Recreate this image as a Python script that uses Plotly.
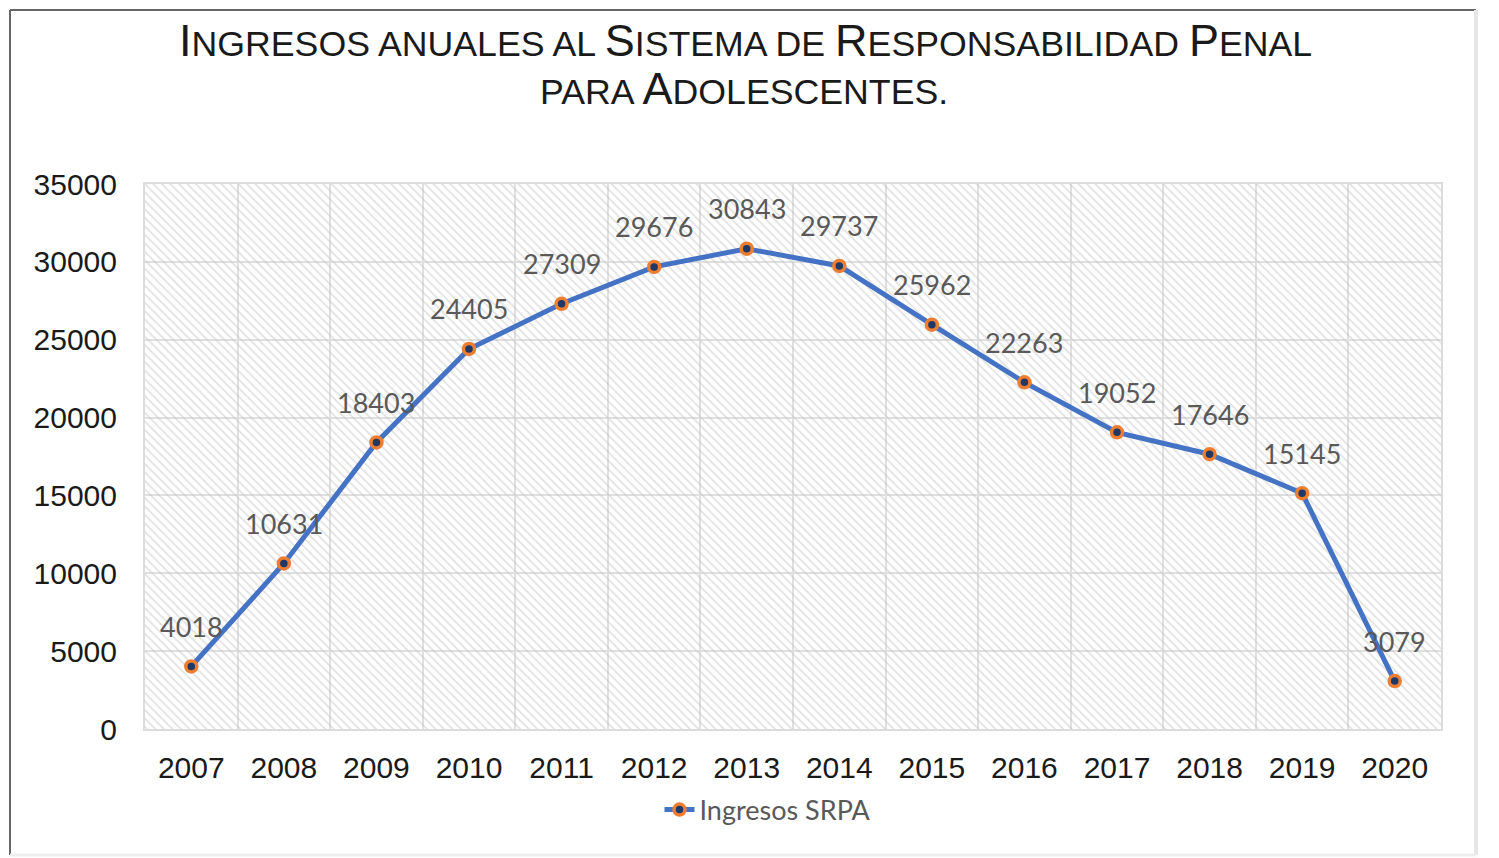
import plotly.graph_objects as go

years = ["2007", "2008", "2009", "2010", "2011", "2012", "2013",
         "2014", "2015", "2016", "2017", "2018", "2019", "2020"]
ingresos = [4018, 10631, 18403, 24405, 27309, 29676, 30843,
            29737, 25962, 22263, 19052, 17646, 15145, 3079]
y_ticks = [0, 5000, 10000, 15000, 20000, 25000, 30000, 35000]
y_max = 35000

# title in small caps (big capitals + reduced capitals)
BIG, SMALL = 45, 35.7


def small_caps(text):
    out = []
    for word in text.split(" "):
        first, rest = word[0], word[1:]
        if first.isupper():
            out.append(f"{first}<span style='font-size:{SMALL}px'>{rest.upper()}</span>")
        else:
            out.append(f"<span style='font-size:{SMALL}px'>{word.upper()}</span>")
    return f"<span style='font-size:{SMALL}px'> </span>".join(out)


title_line1 = "Ingresos anuales al Sistema de Responsabilidad Penal"
title_line2 = "para Adolescentes."

# page has an 8px body margin: all layout positions below are in figure pixels
W, H = 1491, 850
PL, PR, PT, PB = 137, 1433, 176, 721


def px_x(px):
    return (px - PL) / (PR - PL)


def px_y(py):
    return (PB - py) / (PB - PT)


fig = go.Figure()

# hatched plot-area background
fig.add_trace(go.Bar(
    x=years, y=[y_max] * len(years), width=1,
    marker=dict(color="rgba(0,0,0,0)", line=dict(width=0),
                pattern=dict(shape="\\", fgcolor="#C4C4C4",
                             bgcolor="rgba(0,0,0,0)", size=6, solidity=0.3)),
    hoverinfo="skip", showlegend=False,
))

fig.add_trace(go.Scatter(
    x=years, y=ingresos, mode="lines+markers",
    name="Ingresos SRPA",
    line=dict(color="#4472C4", width=5),
    marker=dict(symbol="circle", size=11, color="#1F3864",
                line=dict(color="#ED7D31", width=3.5)),
    cliponaxis=False,
))

annotations = []
for i, v in enumerate(ingresos):
    annotations.append(dict(
        x=i, y=v, xref="x", yref="y", text=str(v), showarrow=False,
        yshift=40, xanchor="center", yanchor="middle",
        font=dict(family="Lato", size=27, color="#595959"),
    ))

annotations.append(dict(
    x=px_x(737), y=px_y(32), xref="paper", yref="paper", showarrow=False,
    text=small_caps(title_line1), xanchor="center", yanchor="middle",
    font=dict(family="Liberation Sans", size=BIG, color="#1a1a1a"),
))
annotations.append(dict(
    x=px_x(736), y=px_y(80), xref="paper", yref="paper", showarrow=False,
    text=small_caps(title_line2), xanchor="center", yanchor="middle",
    font=dict(family="Liberation Sans", size=BIG, color="#1a1a1a"),
))

fig.update_layout(
    width=W, height=H,
    margin=dict(l=PL, r=W - PR, t=PT, b=H - PB),
    paper_bgcolor="white", plot_bgcolor="white",
    bargap=0,
    annotations=annotations,
    showlegend=True,
    legend=dict(orientation="h", x=px_x(749 - 8 + 19), xanchor="center",
                y=px_y(810 - 8), yanchor="middle",
                font=dict(family="Lato", size=27, color="#595959"),
                bgcolor="rgba(0,0,0,0)"),
    xaxis=dict(type="category", range=[-0.5, len(years) - 0.5],
               tickson="boundaries", showgrid=True, gridcolor="#E0E0E0",
               gridwidth=2, ticks="", showline=True, mirror=True,
               linecolor="#DCDCDC", linewidth=2,
               tickfont=dict(family="Liberation Sans", size=30, color="#1a1a1a"),
               ticklabelstandoff=11),
    yaxis=dict(range=[0, y_max], tickvals=y_ticks,
               ticktext=[str(t) for t in y_ticks], showgrid=True,
               gridcolor="#E0E0E0", gridwidth=2, zeroline=False,
               ticks="", showline=True, mirror=True,
               linecolor="#DCDCDC", linewidth=2,
               tickfont=dict(family="Liberation Sans", size=30, color="#1a1a1a"),
               ticklabelstandoff=20),
)

# outer frame of the chart object
fx0, fx1 = px_x(2), px_x(1468)
fy0, fy1 = px_y(847), px_y(2)
fig.add_shape(type="line", xref="paper", yref="paper", x0=fx0, x1=fx1, y0=fy1, y1=fy1,
              line=dict(color="#666666", width=2))
fig.add_shape(type="line", xref="paper", yref="paper", x0=fx0, x1=fx0, y0=fy0, y1=fy1,
              line=dict(color="#666666", width=2))
fig.add_shape(type="line", xref="paper", yref="paper", x0=fx1, x1=fx1, y0=fy0, y1=fy1,
              line=dict(color="#E6E6E6", width=4))
fig.add_shape(type="line", xref="paper", yref="paper", x0=fx0, x1=fx1, y0=fy0, y1=fy0,
              line=dict(color="#EEEEEE", width=3))

fig.write_html("out.html")
